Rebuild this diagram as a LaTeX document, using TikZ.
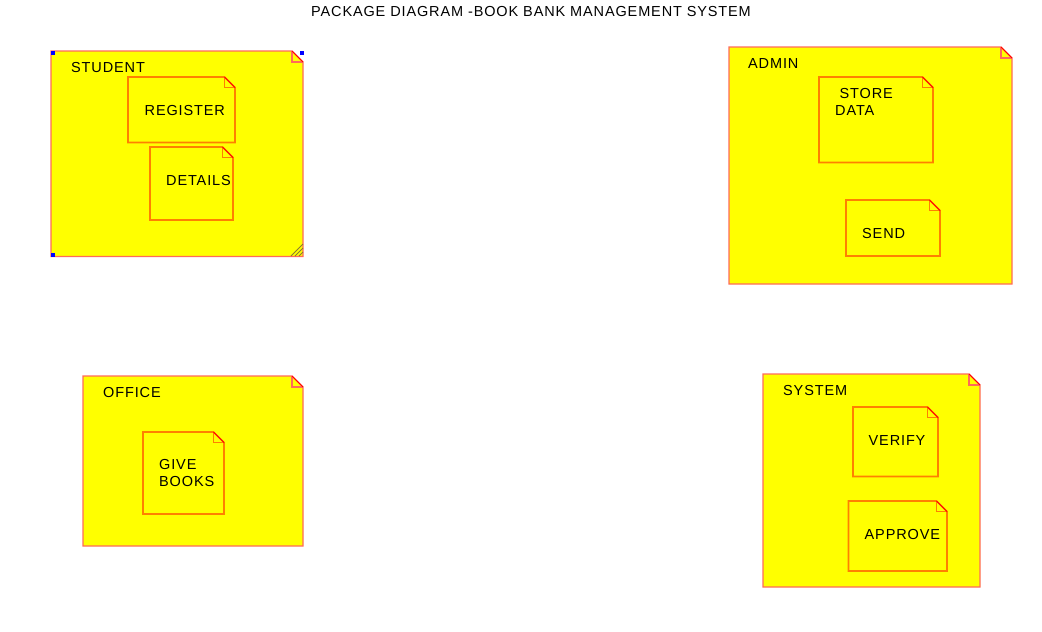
\documentclass[tikz,border=0pt]{standalone}
\usepackage{fontspec}
\setmainfont[LetterSpace=6]{Liberation Sans}
\usepackage{xcolor}
\definecolor{pkg_yellow}{HTML}{FFFF00}
\definecolor{pkg_edge}{HTML}{FF6A5A}
\definecolor{note_edge}{HTML}{FF8000}
\definecolor{fold_red}{HTML}{FF0000}
\definecolor{grip_olive}{HTML}{8A7A30}
\definecolor{handle_blue}{HTML}{0000FF}

% note shape: x1, y1, x2, y2, fold, style
\newcommand{\notebox}[6]{%
	\draw[#6] (#1, #2) -- (#3 - #5, #2) -- (#3, #2 + #5) -- (#3, #4) -- (#1, #4) -- cycle;
	\draw[#6, fill = none] (#3 - #5, #2) -- (#3 - #5, #2 + #5) -- (#3, #2 + #5);
	\draw[fold_red, line width = 0.8pt] (#3 - #5, #2) -- (#3, #2 + #5);
}

\begin{document}
\begin{tikzpicture}[x = 1pt, y = -1pt,
	pkg/.style = {draw = pkg_edge, fill = pkg_yellow, line width = 1.2pt},
	note/.style = {draw = note_edge, fill = pkg_yellow, line width = 1.6pt},
	label/.style = {anchor = base west, inner sep = 0pt, font = \fontsize{14.5}{17}\selectfont, align = left}]
	\useasboundingbox (0, 0) rectangle (1042, 632);
	\node[anchor = base, inner sep = 0pt, font = \fontsize{14.5}{17}\selectfont] (title) at (531, 16) {PACKAGE DIAGRAM -BOOK BANK MANAGEMENT SYSTEM};
	% student
	\notebox{51}{51}{303}{256.5}{11}{pkg}
	\node[label] (student) at (71, 72.5) {STUDENT};
	\notebox{128}{77}{235}{142.5}{10.5}{note}
	\node[label] (register) at (144.5, 115.5) {REGISTER};
	\notebox{150}{147}{233}{220}{10.5}{note}
	\node[label] (details) at (166, 185.5) {DETAILS};
	\fill[handle_blue] (51, 51) rectangle ++(4, 4);
	\fill[handle_blue] (299.5, 51) rectangle ++(4, 4);
	\fill[handle_blue] (51, 252.5) rectangle ++(4, 4);
	\foreach \d in {0, 4, 8}
		\draw[grip_olive, line width = 0.8pt] (291 + \d, 256) -- (303, 244 + \d);
	% admin
	\notebox{729}{47}{1012}{284}{11}{pkg}
	\node[label] (admin) at (748, 68.5) {ADMIN};
	\notebox{819}{77}{933}{162.5}{10.5}{note}
	\node[label] (store) at (839.5, 98.5) {STORE};
	\node[label] (data) at (835, 115.5) {DATA};
	\notebox{846}{200}{940}{256}{10.5}{note}
	\node[label] (send) at (862, 238.5) {SEND};
	% office
	\notebox{83}{376}{303}{546}{11}{pkg}
	\node[label] (office) at (103, 397.5) {OFFICE};
	\notebox{143}{432}{224}{514}{10.5}{note}
	\node[label] (give) at (159, 469.5) {GIVE};
	\node[label] (books) at (159, 486.5) {BOOKS};
	% system
	\notebox{763}{374}{980}{587}{11}{pkg}
	\node[label] (system) at (783, 395.5) {SYSTEM};
	\notebox{853}{407}{938}{476.5}{10.5}{note}
	\node[label] (verify) at (868.5, 445.5) {VERIFY};
	\notebox{848.5}{501}{947}{571}{10.5}{note}
	\node[label] (approve) at (864.5, 539.5) {APPROVE};
\end{tikzpicture}
\end{document}
